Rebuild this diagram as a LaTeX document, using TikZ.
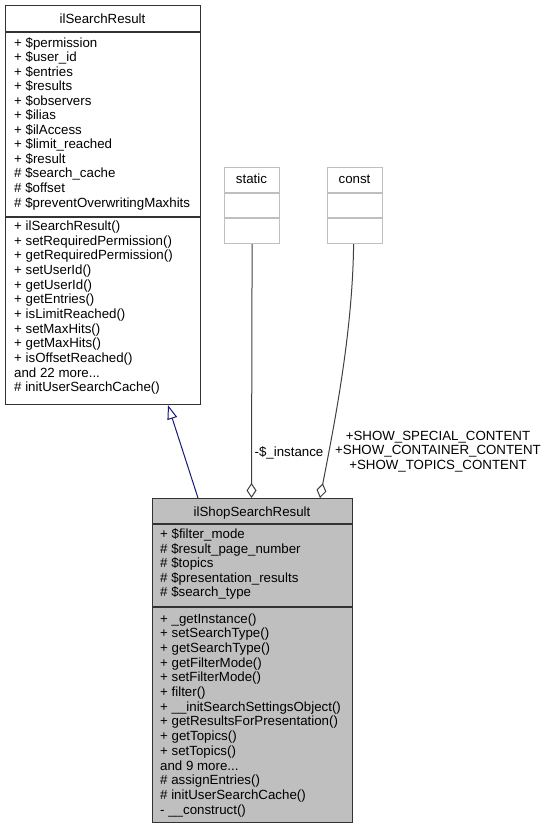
\documentclass[tikz,border=0pt]{standalone}
\usepackage{fontspec}
\setmainfont{Liberation Sans}
\usetikzlibrary{arrows.meta,calc}
\definecolor{edgegray}{HTML}{404040}
\definecolor{navyedge}{HTML}{191970}
\definecolor{lightbox}{HTML}{BFBFBF}
\definecolor{boxline}{HTML}{333333}
\newcommand\mydots{.\kern0pt.\kern0pt.}
\tikzset{
  txt/.style={inner sep=0pt, font=\fontsize{13.3bp}{14.6bp}\selectfont},
  cls/.style={draw=boxline, line width=1.2bp, inner sep=0pt, anchor=north west},
  clsline/.style={draw=boxline, line width=1.2bp},
  ghost/.style={draw=lightbox, line width=1.2bp, inner sep=0pt, anchor=north west},
  ghostline/.style={draw=lightbox, line width=1.2bp},
  inh/.style={draw=navyedge, line width=1bp, -{Triangle[open, length=14bp, width=10bp]}},
  use/.style={draw=edgegray, line width=1bp, -{Diamond[open, length=15bp, width=10bp]}},
}
\begin{document}
\begin{tikzpicture}[x=1bp, y=-1bp]
\useasboundingbox (0,0) rectangle (548,829);

% ---------- ilSearchResult ----------
\node[cls, minimum width=195bp, minimum height=399bp] (base) at (5,5) {};
\draw[clsline] (base.west |- 0,32) -- (base.east |- 0,32);
\draw[clsline] (base.west |- 0,217) -- (base.east |- 0,217);
\node[txt, anchor=base] (baseT) at (102.5,23.5) {ilSearchResult};
\foreach \t [count=\i] in {
  + \$permission, + \$user\_id, + \$entries, + \$results, + \$observers,
  + \$ilias, + \$ilAccess, + \$limit\_reached, + \$result,
  \# \$search\_cache, \# \$offset, \# \$preventOverwritingMaxhits}
  \node[txt, anchor=base west] (bA\i) at (14,{47+(\i-1)*14.55}) {\t};
\foreach \t [count=\i] in {
  + ilSearchResult(), + setRequiredPermission(), + getRequiredPermission(),
  + setUserId(), + getUserId(), + getEntries(), + isLimitReached(),
  + setMaxHits(), + getMaxHits(), + isOffsetReached(), and 22 more\mydots,
  \# initUserSearchCache()}
  \node[txt, anchor=base west] (bM\i) at (14,{230.5+(\i-1)*14.65}) {\t};

% ---------- static ----------
\node[ghost, minimum width=55bp, minimum height=76bp] (static) at (224,167) {};
\draw[ghostline] (static.west |- 0,193) -- (static.east |- 0,193);
\draw[ghostline] (static.west |- 0,218) -- (static.east |- 0,218);
\node[txt, anchor=base] (staticT) at (251.5,183.5) {static};

% ---------- const ----------
\node[ghost, minimum width=55bp, minimum height=76bp] (const) at (327,167) {};
\draw[ghostline] (const.west |- 0,193) -- (const.east |- 0,193);
\draw[ghostline] (const.west |- 0,218) -- (const.east |- 0,218);
\node[txt, anchor=base] (constT) at (354.5,183.5) {const};

% ---------- ilShopSearchResult ----------
\node[cls, fill=lightbox, minimum width=200bp, minimum height=324bp] (shop) at (152,498) {};
\draw[clsline] (shop.west |- 0,524) -- (shop.east |- 0,524);
\draw[clsline] (shop.west |- 0,607) -- (shop.east |- 0,607);
\node[txt, anchor=base] (shopT) at (252,516) {ilShopSearchResult};
\foreach \t [count=\i] in {
  + \$filter\_mode, \# \$result\_page\_number, \# \$topics,
  \# \$presentation\_results, \# \$search\_type}
  \node[txt, anchor=base west] (sA\i) at (160,{538.5+(\i-1)*14.6}) {\t};
\foreach \t [count=\i] in {
  + \_getInstance(), + setSearchType(), + getSearchType(), + getFilterMode(),
  + setFilterMode(), + filter(), + \_\_initSearchSettingsObject(),
  + getResultsForPresentation(), + getTopics(), + setTopics(), and 9 more\mydots,
  \# assignEntries(), \# initUserSearchCache(), - \_\_construct()}
  \node[txt, anchor=base west] (sM\i) at (160,{623+(\i-1)*14.7}) {\t};

% ---------- edges ----------
\coordinate (inhS) at ($(shop.north west)+(46,0)$);
\coordinate (inhE) at ($(base.south west)+(163,0)$);
\draw[inh] (inhS) -- (inhE);

\coordinate (stS) at (static.south);
\coordinate (stE) at ($(shop.north west)+(99.5,0)$);
\draw[use] (stS) -- (stE);
\node[txt, anchor=base] (stL) at (289,456) {-\$\_instance};

\coordinate (coS) at ($(const.south)+(-1.5,0)$);
\coordinate (coE) at ($(shop.north west)+(168,0)$);
\draw[use] (coS) .. controls ($(coS)+(-1,87)$) and ($(coE)+(15,-77)$) .. (coE);
\node[txt, align=center, anchor=base] (coL) at (438,469.5)
  {+SHOW\_SPECIAL\_CONTENT\\+SHOW\_CONTAINER\_CONTENT\\+SHOW\_TOPICS\_CONTENT};
\end{tikzpicture}
\end{document}
